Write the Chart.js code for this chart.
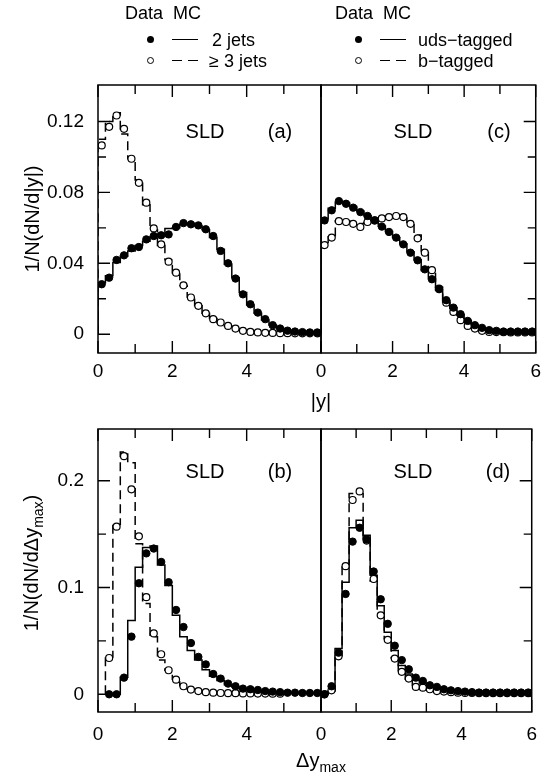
<!DOCTYPE html>
<html><head><meta charset="utf-8">
<script src="https://cdn.jsdelivr.net/npm/chart.js@4.4.1/dist/chart.umd.min.js"></script>
<style>
html,body{margin:0;padding:0;background:#fff;}
#wrap{position:relative;width:548px;height:778px;overflow:hidden;font-family:"Liberation Sans",Arial,Helvetica,sans-serif;color:#000;}
canvas{position:absolute;left:0;top:0;}
.t{position:absolute;white-space:nowrap;line-height:1;transform:translate(-50%,-50%);}
.lg{position:absolute;white-space:nowrap;line-height:1;font-size:18px;}
.dot{position:absolute;width:7px;height:7px;border-radius:50%;box-sizing:border-box;}
.ln{position:absolute;height:0;border-top:1.5px solid #000;}
.rot{position:absolute;white-space:nowrap;line-height:1;font-size:20px;transform:translate(-50%,-50%) rotate(-90deg);}
sub{font-size:14px;vertical-align:-5px;line-height:0;}
</style></head><body>
<div id="wrap">
<canvas id="ca" width="548" height="778"></canvas>
<canvas id="cc" width="548" height="778"></canvas>
<canvas id="cb" width="548" height="778"></canvas>
<canvas id="cd" width="548" height="778"></canvas>

<!-- legend left -->
<div class="lg" style="left:125px;top:4px;">Data&nbsp;&nbsp;MC</div>
<div class="dot" style="left:147px;top:36px;background:#000;"></div>
<div class="ln" style="left:172px;top:39px;width:26px;"></div>
<div class="lg" style="left:212px;top:31px;">2 jets</div>
<div class="dot" style="left:147px;top:57px;border:1.2px solid #000;background:#fff;"></div>
<div class="ln" style="left:172px;top:60px;width:10px;"></div>
<div class="ln" style="left:188px;top:60px;width:10px;"></div>
<div class="lg" style="left:209px;top:52px;">≥ 3 jets</div>
<!-- legend right -->
<div class="lg" style="left:335px;top:4px;">Data&nbsp;&nbsp;MC</div>
<div class="dot" style="left:355px;top:36px;background:#000;"></div>
<div class="ln" style="left:380px;top:39px;width:26px;"></div>
<div class="lg" style="left:418px;top:31px;">uds−tagged</div>
<div class="dot" style="left:355px;top:57px;border:1.2px solid #000;background:#fff;"></div>
<div class="ln" style="left:380px;top:60px;width:10px;"></div>
<div class="ln" style="left:396px;top:60px;width:10px;"></div>
<div class="lg" style="left:418px;top:52px;">b−tagged</div>

<!-- panel labels -->
<div class="t" style="left:205px;top:131px;font-size:20px;">SLD</div>
<div class="t" style="left:280px;top:131px;font-size:20px;">(a)</div>
<div class="t" style="left:413px;top:131px;font-size:20px;">SLD</div>
<div class="t" style="left:499px;top:131px;font-size:20px;">(c)</div>
<div class="t" style="left:205px;top:471px;font-size:20px;">SLD</div>
<div class="t" style="left:280px;top:471px;font-size:20px;">(b)</div>
<div class="t" style="left:413px;top:471px;font-size:20px;">SLD</div>
<div class="t" style="left:498px;top:471px;font-size:20px;">(d)</div>

<!-- axis titles -->
<div class="t" style="left:321px;top:401px;font-size:20px;">|y|</div>
<div class="t" style="left:321px;top:760px;font-size:20px;">Δy<sub>max</sub></div>
<div class="rot" style="left:32px;top:219px;">1/N(dN/d|y|)</div>
<div class="rot" style="left:31px;top:563px;">1/N(dN/dΔy<sub>max</sub>)</div>
</div>

<script>
// ---------------- data ----------------
const binWidth = 0.2;
const yCenters = [0.1,0.3,0.5,0.7,0.9,1.1,1.3,1.5,1.7,1.9,2.1,2.3,2.5,2.7,2.9,3.1,3.3,3.5,3.7,3.9,4.1,4.3,4.5,4.7,4.9,5.1,5.3,5.5,5.7,5.9];
const dyCentersB = [0.3,0.5,0.7,0.9,1.1,1.3,1.5,1.7,1.9,2.1,2.3,2.5,2.7,2.9,3.1,3.3,3.5,3.7,3.9,4.1,4.3,4.5,4.7,4.9,5.1,5.3,5.5,5.7,5.9];
const dyCentersD = [0.1,0.3,0.5,0.7,0.9,1.1,1.3,1.5,1.7,1.9,2.1,2.3,2.5,2.7,2.9,3.1,3.3,3.5,3.7,3.9,4.1,4.3,4.5,4.7,4.9,5.1,5.3,5.5,5.7,5.9];

// (a) |y|, 2 jets vs >=3 jets
const a2JetsData = [0.0282,0.0319,0.0419,0.0445,0.0485,0.0492,0.0535,0.0554,0.0558,0.0563,0.0605,0.0627,0.0620,0.0614,0.0592,0.0554,0.0470,0.0400,0.0314,0.0225,0.0169,0.0122,0.0085,0.0051,0.0032,0.0020,0.0015,0.0012,0.0010,0.0010];
const a2JetsMC   = [0.0290,0.0330,0.0405,0.0440,0.0470,0.0500,0.0525,0.0550,0.0565,0.0597,0.0600,0.0620,0.0625,0.0610,0.0590,0.0545,0.0480,0.0395,0.0320,0.0235,0.0165,0.0118,0.0080,0.0052,0.0033,0.0022,0.0016,0.0012,0.0010,0.0010];
const a3JetsData = [0.1065,0.1170,0.1234,0.1159,0.0990,0.0854,0.0742,0.0597,0.0507,0.0409,0.0347,0.0276,0.0207,0.0160,0.0118,0.0085,0.0066,0.0047,0.0032,0.0019,0.0013,0.0010,0.0008,0.0007,0.0006,0.0006,0.0005,0.0005,0.0005,0.0005];
const a3JetsMC   = [0.1100,0.1200,0.1250,0.1130,0.0990,0.0870,0.0730,0.0590,0.0500,0.0420,0.0340,0.0275,0.0210,0.0160,0.0118,0.0088,0.0065,0.0047,0.0032,0.0021,0.0014,0.0010,0.0008,0.0007,0.0006,0.0006,0.0005,0.0005,0.0005,0.0005];

// (c) |y|, uds-tagged vs b-tagged
const cUdsData = [0.0642,0.0699,0.0751,0.0736,0.0714,0.0689,0.0667,0.0642,0.0607,0.0577,0.0545,0.0507,0.0460,0.0417,0.0366,0.0310,0.0254,0.0192,0.0150,0.0113,0.0075,0.0051,0.0036,0.0023,0.0019,0.0015,0.0015,0.0015,0.0015,0.0015];
const cUdsMC   = [0.0650,0.0710,0.0745,0.0740,0.0720,0.0695,0.0670,0.0640,0.0610,0.0580,0.0545,0.0510,0.0465,0.0420,0.0360,0.0315,0.0250,0.0190,0.0150,0.0110,0.0078,0.0052,0.0036,0.0025,0.0019,0.0016,0.0015,0.0015,0.0015,0.0015];
const cBData   = [0.0503,0.0545,0.0638,0.0633,0.0623,0.0605,0.0633,0.0642,0.0653,0.0661,0.0667,0.0661,0.0623,0.0541,0.0460,0.0361,0.0257,0.0178,0.0126,0.0079,0.0047,0.0032,0.0019,0.0013,0.0012,0.0011,0.0010,0.0010,0.0010,0.0010];
const cBMC     = [0.0510,0.0550,0.0640,0.0640,0.0630,0.0625,0.0630,0.0640,0.0650,0.0660,0.0665,0.0660,0.0630,0.0560,0.0470,0.0360,0.0265,0.0180,0.0125,0.0080,0.0050,0.0032,0.0020,0.0014,0.0012,0.0011,0.0010,0.0010,0.0010,0.0010];

// (b) Δy_max, 2 jets vs >=3 jets
const b2JetsData = [0,0,0.0156,0.054,0.104,0.132,0.1365,0.124,0.105,0.079,0.063,0.048,0.035,0.028,0.019,0.0147,0.010,0.0075,0.0053,0.0047,0.004,0.003,0.0025,0.002,0.0015,0.0015,0.0012,0.0012,0.0012];
const b2JetsMC   = [0,0,0.016,0.069,0.119,0.1375,0.139,0.121,0.102,0.074,0.054,0.041,0.032,0.023,0.017,0.013,0.009,0.0068,0.005,0.004,0.0034,0.0028,0.0022,0.0018,0.0015,0.0014,0.0012,0.0012,0.0012];
const b3JetsData = [0.034,0.157,0.223,0.192,0.148,0.091,0.057,0.0375,0.0225,0.0137,0.0075,0.0044,0.003,0.002,0.0015,0.0012,0.001,0.001,0.0008,0.0008,0.0007,0.0007,0.0006,0.0006];
const b3JetsMC   = [0.035,0.159,0.227,0.217,0.141,0.085,0.054,0.032,0.0225,0.014,0.008,0.0048,0.003,0.002,0.0015,0.0012,0.001,0.001,0.0008,0.0008,0.0007,0.0007,0.0006,0.0006,0.0005,0.0005,0.0005,0.0005,0.0005];

// (d) Δy_max, uds-tagged vs b-tagged
const dUdsData = [0,0.0075,0.039,0.094,0.143,0.156,0.145,0.115,0.089,0.066,0.0455,0.032,0.0234,0.0156,0.0125,0.0084,0.0069,0.0047,0.0037,0.003,0.0025,0.002,0.0016,0.0016,0.0016,0.0016,0.0016,0.0016,0.0016,0.0016];
const dUdsMC   = [0,0.003,0.043,0.105,0.156,0.163,0.149,0.1115,0.083,0.058,0.041,0.027,0.019,0.0135,0.0105,0.0075,0.006,0.0045,0.0036,0.003,0.0025,0.002,0.0016,0.0016,0.0016,0.0016,0.0016,0.0016,0.0016,0.0016];
const dBData   = [0,0.0037,0.0356,0.12,0.182,0.19,0.144,0.108,0.074,0.051,0.0334,0.021,0.0147,0.0069,0.0062,0.0047,0.003,0.0025,0.002,0.0015,0.0012,0.0012,0.001,0.001,0.001,0.001,0.001,0.001,0.001,0.001];
const dBMC     = [0,0.004,0.036,0.122,0.188,0.188,0.146,0.106,0.075,0.052,0.034,0.022,0.014,0.0085,0.006,0.0045,0.003,0.0025,0.002,0.0015,0.0012,0.0012,0.001,0.001,0.001,0.001,0.001,0.001,0.001,0.001];

// tick labels / tick positions
const xMajorTicks = [0,2,4,6];
const xMinorTicks = [1,3,5];
const topYMajor = [0,0.04,0.08,0.12];
const topYMinor = [0.02,0.06,0.10];
const botYMajor = [0,0.1,0.2];
const botYMinor = [0.05,0.15];

// ---------------- helpers ----------------
const FONT = '"Liberation Sans", Arial, Helvetica, sans-serif';
const W = 548, H = 778;

function stepPoints(centers, values) {
  const pts = [{x: centers[0] - binWidth/2, y: 0}];
  values.forEach((v, i) => pts.push({x: centers[i] - binWidth/2, y: v}));
  pts.push({x: centers[values.length-1] + binWidth/2, y: values[values.length-1]});
  return pts;
}
function markerPoints(centers, values) {
  return values.map((v, i) => ({x: centers[i], y: v}));
}

const framePlugin = {
  id: 'frameTicks',
  afterDatasetsDraw(chart, args, o) {
    const {ctx, chartArea: a} = chart;
    const xs = chart.scales.x, ys = chart.scales.y;
    ctx.save();
    ctx.strokeStyle = '#000';
    ctx.lineWidth = 1.4;
    ctx.beginPath();
    const seg = (x1,y1,x2,y2) => { ctx.moveTo(x1,y1); ctx.lineTo(x2,y2); };
    xMajorTicks.forEach(v => { const p = xs.getPixelForValue(v); seg(p,a.bottom,p,a.bottom-12); seg(p,a.top,p,a.top+12); });
    xMinorTicks.forEach(v => { const p = xs.getPixelForValue(v); seg(p,a.bottom,p,a.bottom-9); seg(p,a.top,p,a.top+9); });
    const edge = o.side === 'left' ? a.left : a.right;
    const dir = o.side === 'left' ? 1 : -1;
    o.major.forEach(v => { const p = ys.getPixelForValue(v); seg(edge,p,edge+dir*12,p); });
    o.minor.forEach(v => { const p = ys.getPixelForValue(v); seg(edge,p,edge+dir*8,p); });
    ctx.stroke();
    ctx.lineWidth = 1.5;
    ctx.strokeRect(a.left, a.top, a.right - a.left, a.bottom - a.top);
    ctx.restore();
  }
};

// p.box = pixel edges of the plot frame
function makeChart(id, p) {
  const datasets = [
    {data: stepPoints(p.mcCenters1, p.mc1), showLine: true, stepped: 'before', borderColor: '#000', borderWidth: 1.5, pointRadius: 0, fill: false, order: 4},
    {data: stepPoints(p.mcCenters2, p.mc2), showLine: true, stepped: 'before', borderColor: '#000', borderWidth: 1.5, borderDash: [9,5], pointRadius: 0, fill: false, order: 3},
    {data: markerPoints(p.dCenters2, p.d2), showLine: false, pointRadius: 3.5, pointBackgroundColor: '#fff', pointBorderColor: '#000', pointBorderWidth: 1.2, order: 2},
    {data: markerPoints(p.dCenters1, p.d1), showLine: false, pointRadius: 3.7, pointBackgroundColor: '#000', pointBorderColor: '#000', pointBorderWidth: 1, order: 1}
  ];
  const b = p.box;
  const showY = p.side === 'left';
  return new Chart(document.getElementById(id), {
    type: 'scatter',
    data: {datasets},
    plugins: [framePlugin],
    options: {
      responsive: false, animation: false, devicePixelRatio: 1, events: [],
      layout: {padding: {left: showY ? 0 : b.left, right: W - b.right, top: b.top, bottom: 0}},
      plugins: {legend: {display: false}, tooltip: {enabled: false}, frameTicks: {side: p.side, major: p.yMajor, minor: p.yMinor}},
      scales: {
        x: {
          type: 'linear', position: 'bottom', min: 0, max: 6,
          afterFit: s => { s.height = H - b.bottom; },
          grid: {display: false, drawTicks: false}, border: {display: false},
          ticks: {stepSize: 1, autoSkip: false, maxRotation: 0, minRotation: 0, includeBounds: false, padding: p.xPad, color: '#000',
                  font: {family: FONT, size: 19},
                  callback: v => p.xLabels.includes(v) ? String(v) : ''}
        },
        y: {
          type: 'linear', position: 'left', min: p.yMin, max: p.yMax,
          afterFit: s => { s.width = showY ? b.left : 0; },
          grid: {display: false, drawTicks: false}, border: {display: false},
          ticks: {display: showY, stepSize: p.yStep, includeBounds: false, padding: 14, color: '#000',
                  font: {family: FONT, size: 19},
                  callback: v => Math.abs(v) < 1e-9 ? '0' : (p.yMajor.some(m => Math.abs(m - v) < 1e-9) ? v.toFixed(p.yDec) : '')}
        }
      }
    }
  });
}

makeChart('ca', {box: {left: 98, right: 321, top: 85, bottom: 353}, side: 'left', yMin: -0.0106, yMax: 0.1406, yStep: 0.04, yDec: 2,
  yMajor: topYMajor, yMinor: topYMinor, xLabels: [0,2,4], xPad: 7,
  mcCenters1: yCenters, mc1: a2JetsMC, mcCenters2: yCenters, mc2: a3JetsMC,
  dCenters1: yCenters, d1: a2JetsData, dCenters2: yCenters, d2: a3JetsData});
makeChart('cc', {box: {left: 321, right: 544, top: 85, bottom: 353}, side: 'right', yMin: -0.0106, yMax: 0.1406, yStep: 0.04, yDec: 2,
  yMajor: topYMajor, yMinor: topYMinor, xLabels: [0,2,4,6], xPad: 7,
  mcCenters1: yCenters, mc1: cUdsMC, mcCenters2: yCenters, mc2: cBMC,
  dCenters1: yCenters, d1: cUdsData, dCenters2: yCenters, d2: cBData});
makeChart('cb', {box: {left: 98, right: 321, top: 429, bottom: 712}, side: 'left', yMin: -0.0166, yMax: 0.2485, yStep: 0.1, yDec: 1,
  yMajor: botYMajor, yMinor: botYMinor, xLabels: [0,2,4], xPad: 11,
  mcCenters1: dyCentersB, mc1: b2JetsMC, mcCenters2: dyCentersB, mc2: b3JetsMC,
  dCenters1: dyCentersB, d1: b2JetsData, dCenters2: dyCentersB, d2: b3JetsData});
makeChart('cd', {box: {left: 321, right: 544, top: 429, bottom: 712}, side: 'right', yMin: -0.0166, yMax: 0.2485, yStep: 0.1, yDec: 1,
  yMajor: botYMajor, yMinor: botYMinor, xLabels: [0,2,4,6], xPad: 11,
  mcCenters1: dyCentersD, mc1: dUdsMC, mcCenters2: dyCentersD, mc2: dBMC,
  dCenters1: dyCentersD, d1: dUdsData, dCenters2: dyCentersD, d2: dBData});
</script>
</body></html>
